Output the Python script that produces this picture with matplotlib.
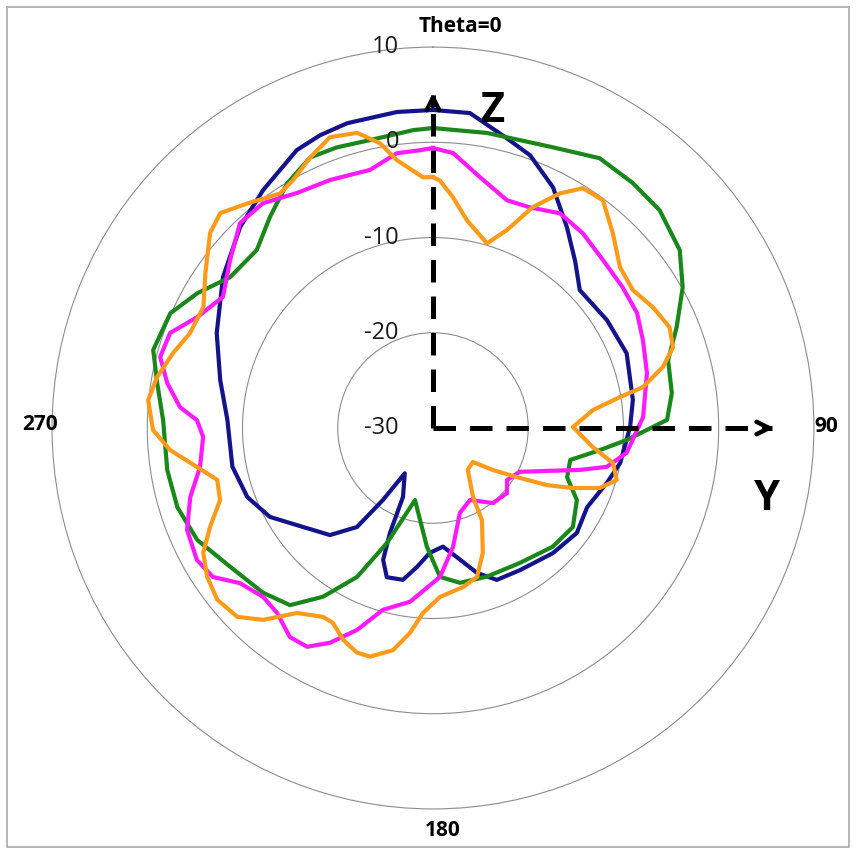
import numpy as np
import matplotlib
matplotlib.use("Agg")
import matplotlib.pyplot as plt
from matplotlib import transforms
from matplotlib.patches import Rectangle

# ---------------- data (theta in degrees clockwise from top, value in dB) ----------------
navy_theta = [0, 6.7, 14.3, 19.6, 26.5, 33.7, 40.5, 46.8, 58.2, 68.9, 82, 89.7, 100.6, 107.5, 117.2,
              126.1, 136.2, 148.5, 157.2, 163.1, 168.4, 175.2, 181.4, 186.6, 191.2, 197.2, 200.7,
              202.3, 203.5, 211.9, 214.8, 217.5, 223.9, 232.7, 241.4, 249.6, 259.1, 272.2, 282.7,
              293.7, 305.7, 316.2, 324.5, 333.9, 338.9, 344.3, 353.5]
navy_val = [3.4, 3.3, 1.4, 0.4, -1.75, -4.65, -7.0, -8.85, -8.5, -8.2, -8.8, -9.3, -10.0, -10.85, -11.8,
            -11.3, -11.8, -12.5, -12.7, -14.1, -15.9, -17.5, -16.9, -15.3, -13.75, -13.6, -15.2,
            -18.1, -22.1, -24.4, -20.8, -16.9, -14.4, -12.85, -10.5, -9.2, -8.55, -8.4, -7.1,
            -5.2, -2.85, -0.75, 0.7, 2.5, 2.95, 3.25, 3.4]

green_theta = [0, 10.4, 23.1, 31.7, 39.2, 46.2, 54.2, 60.6, 67.5, 73.9, 81.7, 88, 93.5, 97.5, 103.1,
               110.1, 116.6, 125.3, 134.8, 147.2, 160.1, 170.1, 177.3, 182.9, 194, 201.8, 207,
               213.1, 218.9, 225.9, 235.6, 244.6, 252.8, 261, 271.7, 279.3, 285.6, 293.6, 299.8,
               306.6, 315.3, 322.3, 329.2, 335.6, 341.1, 347.7, 356.2]
green_val = [1.5, 1.5, 2.05, 3.3, 3.2, 3.0, 1.95, 0.1, -2.3, -4.3, -4.65, -5.4, -9.6, -12.3, -15.2,
             -15.0, -13.1, -12.0, -12.3, -13.15, -13.4, -13.5, -14.35, -17.5, -22.2, -17.0, -12.45,
             -8.85, -6.1, -5.15, -4.2, -2.6, -1.9, -1.75, -1.65, -0.65, 0.5, 0.1, -1.5,
             -3.45, -3.7, -2.0, -0.1, 1.2, 1.15, 0.95, 1.35]

magenta_theta = [0, 4.2, 10.6, 18, 23.7, 30.6, 37.6, 45.3, 53.4, 60.6, 67.3, 75.6, 87, 97.3, 102.6,
                 105.9, 116.8, 125.1, 131.3, 141.3, 152.8, 162.4, 170.5, 177.3, 187.5, 195.4, 200.6,
                 205.6, 209.9, 214.4, 220.1, 225.2, 231.2, 235.9, 240.8, 247.5, 254.1, 260.5, 267.8,
                 271.9, 274.7, 279.6, 284.6, 289.9, 295.2, 302, 309.6, 316.7, 322.9, 330.1, 337.4,
                 346.3, 352.5, 357.3]
magenta_val = [-0.6, -1.05, -3.2, -4.85, -4.7, -3.8, -4.2, -4.9, -5.2, -5.4, -6.1, -6.8, -7.9, -9.5, -11.3,
               -13.95, -19.8, -20.5, -19.65, -19.9, -21.5, -20.65, -17.3, -14.35, -11.6, -10.2, -7.35,
               -5.0, -3.5, -3.4, -4.6, -4.85, -4.0, -2.1, -1.6, -2.05, -3.5, -5.2, -5.85,
               -5.2, -3.35, -1.7, -0.4, -0.65, -2.65, -4.0, -2.35, -0.45, -0.4, -1.5, -1.8,
               -2.1, -0.9, -0.8]

orange_theta = [0, 1.6, 4.9, 9.3, 16.3, 20.5, 24.3, 28.4, 32, 36.7, 42.7, 49.3, 55.4, 61.2, 66.9, 71.4,
                75.1, 79, 80.6, 83.6, 89.6, 96.8, 101, 105.8, 109.8, 113.2, 116.6, 119.9, 125, 130.4,
                140.2, 149.9, 152, 158.2, 163.5, 169.3, 177.6, 183.1, 186.4, 190.2, 195.4, 198.7,
                203, 207.2, 210.2, 216.3, 221.5, 226, 231.5, 236.6, 241.5, 246.1, 251.3, 256.5,
                260.6, 265.2, 269.6, 275.6, 280.5, 286.1, 291.3, 297.8, 304.2, 311.2, 315.3, 320.4,
                326.9, 330.6, 335.6, 340.5, 345.6, 349.5, 352.3, 357.7]
orange_val = [-3.65, -4.0, -5.65, -7.9, -9.8, -7.8, -4.55, -2.0, -0.3, -0.15, -2.15, -4.1, -4.5, -3.65, -3.0, -3.4,
              -5.0, -7.55, -10.1, -13.1, -15.3, -13.1, -10.75, -9.95, -11.4, -14.0, -16.6, -19.5, -22.3, -24.5,
              -24.3, -21.6, -19.05, -15.9, -13.7, -13.0, -12.25, -10.55, -8.35, -6.3, -5.1, -5.1,
              -5.85, -7.0, -7.05, -5.9, -3.1, -1.45, -1.05, -1.6, -2.55, -4.4, -6.4, -6.7,
              -4.9, -2.3, -0.6, 0.05, -0.55, -1.6, -2.6, -2.75, -1.1, 1.1, 1.75, 0.6,
              -0.6, -0.1, 1.2, 2.4, 2.0, 0.4, -1.6, -3.65]

series = [
    (navy_theta, navy_val, "#14148a"),
    (green_theta, green_val, "#1a871a"),
    (magenta_theta, magenta_val, "#ff1aff"),
    (orange_theta, orange_val, "#ff9a1a"),
]

r_ticks = [-30, -20, -10, 0, 10]
r_tick_labels = ["-30", "-20", "-10", "0", "10"]
angle_labels = ["Theta=0", "90", "180", "270"]

# ---------------- figure ----------------
fig = plt.figure(figsize=(8.56, 8.50), dpi=100)
fig.patch.set_facecolor("white")
fig.patches.append(Rectangle((0.008, 0.003), 0.984, 0.989, transform=fig.transFigure,
                             fill=False, edgecolor="#a8a8a8", lw=1.2))

ax = fig.add_axes([0.0608, 0.0482, 0.890, 0.8965], projection="polar")
ax.set_theta_zero_location("N")
ax.set_theta_direction(-1)
ax.set_ylim(-30, 10)
ax.set_yticks([-20, -10, 0])
ax.set_yticklabels([])
ax.set_xticks([])
ax.grid(True, color="#8c8c8c", lw=0.8)
ax.xaxis.grid(False)
ax.spines["polar"].set_color("#8c8c8c")
ax.spines["polar"].set_linewidth(0.8)

for th, val, col in series:
    t = np.deg2rad(np.array(th + [th[0]]))
    v = np.array(val + [val[0]])
    ax.plot(t, v, color=col, lw=3.0, solid_joinstyle="round", zorder=3)

# radial tick labels to the left of the vertical axis
off = transforms.offset_copy(ax.transData, fig=fig, x=-34, y=0, units="dots")
for rv, lab in zip(r_ticks, r_tick_labels):
    ax.text(0, rv, lab, transform=off, ha="right", va="center", fontsize=17,
            family="Open Sans", color="#1a1a1a", zorder=5)

# dashed axes arrows
ax.plot([0, 0], [-30, 5.0], color="black", lw=3.6, ls=(0, (4.5, 2.8)), zorder=6)
ax.plot([np.pi / 2, np.pi / 2], [-30, 5.6], color="black", lw=3.6, ls=(0, (4.5, 2.8)), zorder=6)
ax.annotate("", xy=(0, 5.5), xytext=(0, 3.5),
            arrowprops=dict(arrowstyle="->,head_length=0.9,head_width=0.45", lw=3.2, color="black"),
            zorder=7)
ax.annotate("", xy=(np.pi / 2, 6.1), xytext=(np.pi / 2, 4.5),
            arrowprops=dict(arrowstyle="->,head_length=0.9,head_width=0.45", lw=3.2, color="black"),
            zorder=7)

# angle labels
fig.text(460 / 856, 1 - 27 / 850, angle_labels[0], ha="center", va="center", fontsize=15,
         fontweight="bold", family="Open Sans")
fig.text(826 / 856, 1 - 427 / 850, angle_labels[1], ha="center", va="center", fontsize=15,
         fontweight="bold", family="Open Sans")
fig.text(443 / 856, 1 - 830 / 850, angle_labels[2], ha="center", va="center", fontsize=15,
         fontweight="bold", family="Open Sans")
fig.text(40 / 856, 1 - 425 / 850, angle_labels[3], ha="center", va="center", fontsize=15,
         fontweight="bold", family="Open Sans")

# axis letters
fig.text(493 / 856, 1 - 111 / 850, "Z", ha="center", va="center", fontsize=30,
         fontweight="bold", family="Open Sans")
fig.text(767 / 856, 1 - 499 / 850, "Y", ha="center", va="center", fontsize=30,
         fontweight="bold", family="Open Sans")

fig.savefig("out.png", dpi=100, facecolor="white")
